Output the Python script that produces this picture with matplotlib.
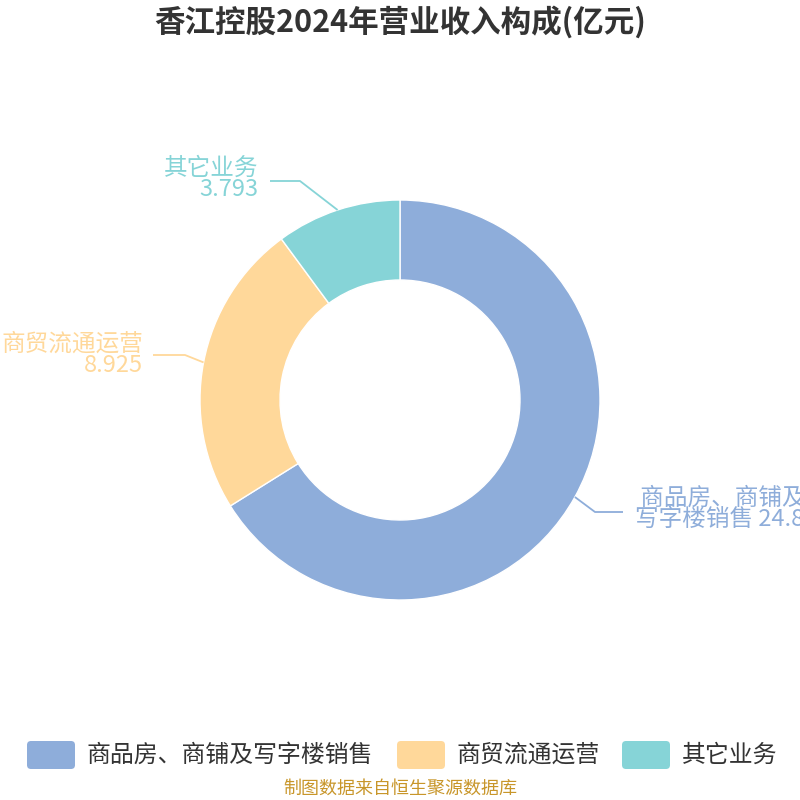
import numpy as np
import matplotlib
matplotlib.use("Agg")
import matplotlib.pyplot as plt
from matplotlib.patches import FancyBboxPatch

plt.rcParams["font.family"] = ["Noto Sans CJK SC", "DejaVu Sans"]

# data
categories = ["商品房、商铺及写字楼销售", "商贸流通运营", "其它业务"]
values = [24.82, 8.925, 3.793]
label_texts = [" 商品房、商铺及\n写字楼销售 24.82", "商贸流通运营\n8.925", "其它业务\n3.793"]
colors = ["#8EADDA", "#FFD89A", "#86D4D7"]

# layout in pixel space (y measured from top)
cx, cy = 400, 400
r_out, r_in = 200, 120
line_ends = [(623, 512), (153, 355), (270, 181)]
elbow_len = [28, -32, -30]
text_pos = [(635, 509, "left"), (143, 355, "right"), (258, 179, "right")]

fig = plt.figure(figsize=(8, 8), dpi=100)
ax = fig.add_axes([0, 0, 1, 1])
ax.set_xlim(0, 800)
ax.set_ylim(0, 800)
ax.set_aspect("equal")
ax.axis("off")


def py(y):
    return 800 - y


wedges, _ = ax.pie(values, colors=colors, startangle=90, counterclock=False,
                   radius=r_out, center=(cx, py(cy)),
                   wedgeprops=dict(width=r_out - r_in, edgecolor="white", linewidth=1))
ax.set_xlim(0, 800)
ax.set_ylim(0, 800)

total = sum(values)
start = 90.0
for i, v in enumerate(values):
    span = 360 * v / total
    mid = np.deg2rad(start - span / 2)
    start -= span
    x0 = cx + r_out * np.cos(mid)
    y0 = py(cy) + r_out * np.sin(mid)
    ex, ey = line_ends[i]
    ax.plot([x0, ex - elbow_len[i], ex], [y0, py(ey), py(ey)],
            color=colors[i], lw=1.3, solid_capstyle="butt")
    tx, ty, ha = text_pos[i]
    ax.text(tx, py(ty), label_texts[i], color=colors[i], fontsize=17,
            ha=ha, va="center", linespacing=0.88)

fig.text(0.5, 1 - 22 / 800, "香江控股2024年营业收入构成(亿元)", ha="center", va="center",
         fontsize=22, fontweight="bold", color="#333333")

# legend
leg_boxes = [27, 397, 622]
for i, name in enumerate(categories):
    bx = leg_boxes[i]
    ax.add_patch(FancyBboxPatch((bx + 4, py(769) + 4), 40, 20,
                                boxstyle="round,pad=4", facecolor=colors[i],
                                edgecolor="none"))
    ax.text(bx + 60, py(755), name, fontsize=17.2, color="#333333",
            ha="left", va="center")

fig.text(0.5, 1 - 789 / 800, "制图数据来自恒生聚源数据库", ha="center", va="center",
         fontsize=13, color="#C8962A")

fig.savefig("out.png", dpi=100)
